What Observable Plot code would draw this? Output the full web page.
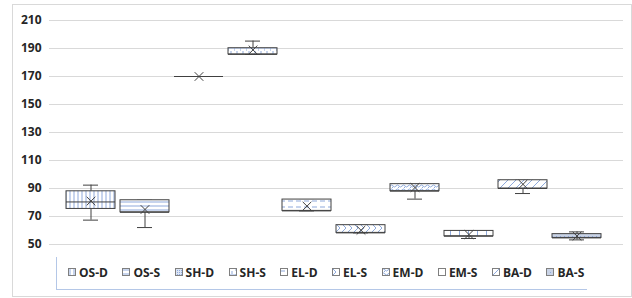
<!DOCTYPE html>
<html><head><meta charset="utf-8">
<script src="https://cdn.jsdelivr.net/npm/d3@7"></script>
<script src="https://cdn.jsdelivr.net/npm/@observablehq/plot@0.6"></script>
<style>
body{margin:0;background:#fff;font-family:"Open Sans",sans-serif;}
#frame{position:absolute;left:12px;top:4px;width:620px;height:293px;border:1px solid #d9d9d9;box-sizing:border-box;}
#chart{position:absolute;left:0;top:0;}
#legend{position:absolute;left:56px;top:257px;width:531px;height:33px;border-left:1px solid #b4c7e7;border-bottom:1px solid #b4c7e7;box-sizing:border-box;display:flex;align-items:center;padding-left:11px;padding-bottom:2px;font-weight:bold;font-size:12px;color:#262626;overflow:visible;white-space:nowrap;}
.item{display:flex;align-items:center;margin-right:14.5px;flex-shrink:0;white-space:nowrap;}
.item:last-child{margin-right:0;}
.item svg{margin-right:3px;flex-shrink:0;}
</style></head>
<body>
<svg width="0" height="0" style="position:absolute">
<defs>
<pattern id="pOSD" patternUnits="userSpaceOnUse" width="4" height="4"><rect width="4" height="4" fill="#fff"/><path d="M2,0V4" stroke="#8faadc" stroke-width="1"/></pattern>
<pattern id="pOSS" patternUnits="userSpaceOnUse" width="4" height="4"><rect width="4" height="4" fill="#fff"/><path d="M0,2H4" stroke="#8faadc" stroke-width="1"/></pattern>
<pattern id="pSHD" patternUnits="userSpaceOnUse" width="2" height="2"><rect width="2" height="2" fill="#dde5f4"/><rect width="1" height="1" fill="#8faadc"/></pattern>
<pattern id="pSHS" patternUnits="userSpaceOnUse" width="6" height="6"><rect width="6" height="6" fill="#fff"/><path d="M0,0V3M3,3V6M0,0H6" stroke="#8faadc" stroke-width="1"/></pattern>
<pattern id="pELD" patternUnits="userSpaceOnUse" width="8" height="6"><rect width="8" height="6" fill="#fff"/><path d="M0,3H5" stroke="#8faadc" stroke-width="1"/></pattern>
<pattern id="pELS" patternUnits="userSpaceOnUse" width="6" height="8"><rect width="6" height="8" fill="#fff"/><path d="M0,0L4,4L0,8" fill="none" stroke="#8faadc" stroke-width="1"/></pattern>
<pattern id="pEMD" patternUnits="userSpaceOnUse" width="6" height="4"><rect width="6" height="4" fill="#fff"/><path d="M0,2Q1.5,0 3,2T6,2" fill="none" stroke="#8faadc" stroke-width="1"/><rect x="2" y="3" width="1" height="1" fill="#8faadc"/></pattern>
<pattern id="pEMS" patternUnits="userSpaceOnUse" width="9" height="9"><rect width="9" height="9" fill="#fff"/><path d="M0.5,0V9" stroke="#8faadc" stroke-width="1"/></pattern>
<pattern id="pBAD" patternUnits="userSpaceOnUse" width="8" height="8"><rect width="8" height="8" fill="#fff"/><path d="M0,8L8,0M-2,2L2,-2M6,10L10,6" stroke="#8faadc" stroke-width="1"/></pattern>
<pattern id="pBAS" patternUnits="userSpaceOnUse" width="4" height="4"><rect width="4" height="4" fill="#c9d3e6"/><rect width="1" height="1" fill="#8faadc"/></pattern>
</defs>
</svg>
<div id="frame"></div>
<div id="chart"></div>
<div id="legend"></div>
<script>
const categories = ["OS-D","OS-S","SH-D","SH-S","EL-D","EL-S","EM-D","EM-S","BA-D","BA-S"];
const mins    = [67.4, 62.1, 170, 185.8, 74.0, 58.3, 82.4, 54.3, 86.4, 53.3];
const q1s     = [75.4, 73.0, 170, 185.8, 74.0, 58.3, 88.1, 55.9, 90.0, 54.7];
const medians = [80.4, 73.0, 170, 185.8, 74.0, 58.3, 88.1, 55.9, 90.0, 54.7];
const q3s     = [88.0, 81.6, 170, 190.2, 82.1, 63.8, 93.1, 59.7, 95.9, 57.4];
const maxs    = [92.4, 81.6, 170, 195.3, 82.1, 63.8, 93.1, 59.7, 95.9, 59.0];
const means   = [81.0, 75.0, 170, 189.0, 77.4, 60.2, 90.7, 57.1, 93.0, 56.0];
const yTicks  = [50, 70, 90, 110, 130, 150, 170, 190, 210];

const patternOf = {"OS-D":"pOSD","OS-S":"pOSS","SH-D":"pSHD","SH-S":"pSHS","EL-D":"pELD","EL-S":"pELS","EM-D":"pEMD","EM-S":"pEMS","BA-D":"pBAD","BA-S":"pBAS"};

const rows = categories.map((c, i) => ({cat: c, min: mins[i], q1: q1s[i], med: medians[i], q3: q3s[i], max: maxs[i], mean: means[i]}));

const dark = "#404040";
const chart = Plot.plot({
  width: 632, height: 252,
  marginTop: 20, marginBottom: 8, marginLeft: 49, marginRight: 9,
  style: {fontFamily: "'Open Sans', sans-serif", fontSize: "12px", fontWeight: "bold", color: "#262626", background: "transparent"},
  x: {domain: categories, range: [64, 604], paddingInner: 0.092, paddingOuter: 0, axis: null},
  y: {domain: [50, 210], axis: null},
  marks: [
    Plot.gridY(yTicks, {stroke: "#d9d9d9", strokeOpacity: 1}),
    Plot.axisY(yTicks, {tickSize: 0, tickPadding: 8, tickFormat: d => d, fill: "#262626"}),
    Plot.ruleX(rows, {x: "cat", y1: "min", y2: "q1", stroke: dark}),
    Plot.ruleX(rows, {x: "cat", y1: "q3", y2: "max", stroke: dark}),
    Plot.tickY(rows, {x: "cat", y: "min", stroke: dark, insetLeft: 17, insetRight: 17}),
    Plot.tickY(rows, {x: "cat", y: "max", stroke: dark, insetLeft: 17, insetRight: 17}),
    Plot.barY(rows, {x: "cat", y1: "q1", y2: "q3", fill: d => `url(#${patternOf[d.cat]})`, stroke: dark, strokeWidth: 1}),
    Plot.tickY(rows, {x: "cat", y: "med", stroke: dark}),
    Plot.dot(rows, {x: "cat", y: "mean", symbol: "times", r: 4, stroke: dark, strokeWidth: 1})
  ]
});
document.getElementById("chart").appendChild(chart);

const legend = document.getElementById("legend");
categories.forEach(c => {
  const item = document.createElement("div");
  item.className = "item";
  item.innerHTML = `<svg width="8" height="8"><rect x="0.5" y="0.5" width="7" height="7" fill="url(#${patternOf[c]})" stroke="#7f7f7f"/></svg><span>${c}</span>`;
  legend.appendChild(item);
});
</script>
</body></html>
